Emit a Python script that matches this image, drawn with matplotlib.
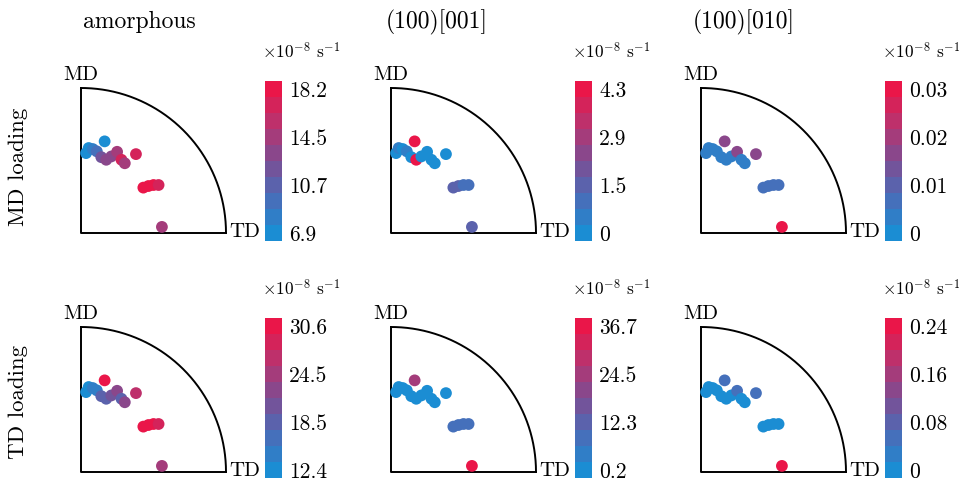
import numpy as np
import matplotlib
matplotlib.use("Agg")
import matplotlib.pyplot as plt
from matplotlib.colors import LinearSegmentedColormap, Normalize
from matplotlib.cm import ScalarMappable

plt.rcParams['font.family'] = 'cmr10'
plt.rcParams['mathtext.fontset'] = 'cm'
plt.rcParams['axes.formatter.use_mathtext'] = True

# grain positions inside the quarter circle (radius 1)
grain_x = [0.035, 0.053, 0.081, 0.109, 0.163, 0.140, 0.174, 0.209, 0.249,
           0.279, 0.302, 0.379, 0.430, 0.465, 0.500, 0.535, 0.558]
grain_y = [0.551, 0.586, 0.579, 0.563, 0.632, 0.523, 0.505, 0.528, 0.560,
           0.505, 0.481, 0.544, 0.313, 0.324, 0.331, 0.331, 0.042]

columns = ['amorphous', '(100)[001]', '(100)[010]']
rows = ['MD loading', 'TD loading']

# strain rate per grain, x10^-8 1/s
md_amorphous = [7.5, 7.5, 8.0, 9.2, 6.9, 11.4, 12.6, 13.1, 14.2, 16.5, 14.8, 16.5, 17.6, 17.9, 17.6, 17.4, 15.0]
md_100_001 = [0.2, 0.3, 0.2, 0.4, 4.3, 0.2, 4.2, 0.2, 0.1, 0.2, 0.1, 0.1, 1.3, 1.2, 1.1, 1.1, 1.6]
md_100_010 = [0.002, 0.003, 0.002, 0.004, 0.018, 0.002, 0.003, 0.003, 0.016, 0.002, 0.002, 0.018,
              0.006, 0.006, 0.005, 0.005, 0.030]
td_amorphous = [13.3, 13.3, 14.2, 15.1, 29.7, 17.9, 18.8, 20.6, 22.4, 17.9, 23.3, 26.0, 29.7, 30.1, 29.7, 29.3, 25.1]
td_100_001 = [1.0, 1.2, 0.9, 1.5, 23.9, 1.0, 1.3, 1.1, 1.8, 1.0, 0.9, 2.2, 8.2, 8.0, 7.5, 7.5, 36.7]
td_100_010 = [0.008, 0.009, 0.007, 0.010, 0.055, 0.008, 0.009, 0.010, 0.040, 0.008, 0.007, 0.053,
              0.012, 0.013, 0.011, 0.011, 0.24]

values = [[md_amorphous, md_100_001, md_100_010],
          [td_amorphous, td_100_001, td_100_010]]

# colorbar tick labels
md_ticks = [['6.9', '10.7', '14.5', '18.2'], ['0', '1.5', '2.9', '4.3'], ['0', '0.01', '0.02', '0.03']]
td_ticks = [['12.4', '18.5', '24.5', '30.6'], ['0.2', '12.3', '24.5', '36.7'], ['0', '0.08', '0.16', '0.24']]
tick_labels = [md_ticks, td_ticks]

cmap = LinearSegmentedColormap.from_list('br', ['#1b8dd3', '#4a6cb8', '#7d4d93', '#b8336f', '#ea1649'], N=10)

W, H = 959, 478
fig = plt.figure(figsize=(W / 100, H / 100), dpi=100)

quad_left = [81, 391, 701]
quad_top = [88, 327]
quad_size = 145
cbar_left = [265, 575, 885]
cbar_top = [81, 318]

theta = np.linspace(0, np.pi / 2, 200)

for r in range(2):
    for c in range(3):
        ax = fig.add_axes([quad_left[c] / W, (H - quad_top[r] - quad_size) / H,
                           quad_size / W, quad_size / H])
        ax.plot(np.cos(theta), np.sin(theta), color='black', lw=1.4, clip_on=False)
        ax.plot([0, 0, 1], [1, 0, 0], color='black', lw=1.4, clip_on=False)
        ax.set_xlim(0, 1)
        ax.set_ylim(0, 1)
        ax.axis('off')

        vals = values[r][c]
        labs = tick_labels[r][c]
        vmin, vmax = float(labs[0]), float(labs[-1])
        pad = (vmax - vmin) / 18
        norm = Normalize(vmin - pad, vmax + pad)
        ax.scatter(grain_x, grain_y, c=vals, cmap=cmap, norm=norm, s=72,
                   edgecolors='none', clip_on=False, zorder=3)

        ax.text(0, 1.03, 'MD', ha='center', va='bottom', fontsize=15)
        ax.text(1.02, 0.01, 'TD', ha='left', va='center', fontsize=15)

        cax = fig.add_axes([cbar_left[c] / W, (H - cbar_top[r] - 160) / H, 17 / W, 160 / H])
        cb = fig.colorbar(ScalarMappable(norm=norm, cmap=cmap), cax=cax)
        cb.outline.set_visible(False)
        cb.set_ticks(np.linspace(vmin, vmax, 4))
        cb.set_ticklabels(labs)
        cax.tick_params(length=0, pad=5, labelsize=15.5)
        fig.text((cbar_left[c] - 3) / W, 1 - (cbar_top[r] - 30) / H,
                 r'$\times10^{\mathregular{-8}}$ s$^{\mathregular{-1}}$',
                 ha='left', va='center', fontsize=12.5)

title_x = [139, 437, 744]
for c in range(3):
    fig.text(title_x[c] / W, 1 - 22 / H, columns[c], ha='center', va='center', fontsize=17)

row_y = [167, 402]
for r in range(2):
    fig.text(18 / W, 1 - row_y[r] / H, rows[r], ha='center', va='center',
             rotation=90, fontsize=16.5)

fig.savefig('out.png', dpi=100)
